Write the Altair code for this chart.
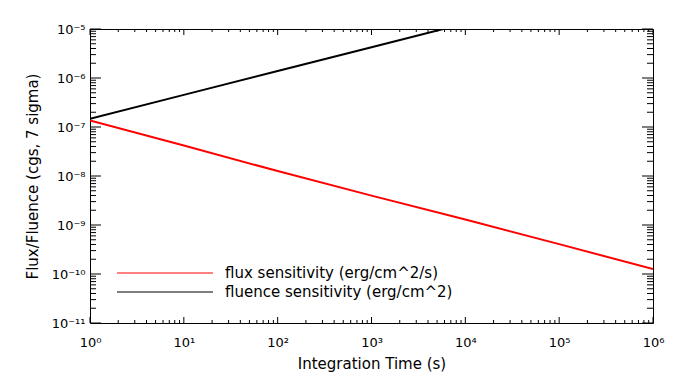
import altair as alt
import pandas as pd

# ---- data ----
time_s = [1, 10, 100, 1000, 10000, 100000, 1000000]
flux = [1.36e-7, 4.2e-8, 1.26e-8, 3.98e-9, 1.29e-9, 4.07e-10, 1.26e-10]
fluence_time = [1, 10, 100, 1000, 10000]
fluence = [1.47e-7, 4.53e-7, 1.39e-6, 4.25e-6, 1.3e-5]
series_names = ["flux sensitivity (erg/cm^2/s)", "fluence sensitivity (erg/cm^2)"]
series_colors = ["#ff0000", "#000000"]

x_major = [1e0, 1e1, 1e2, 1e3, 1e4, 1e5, 1e6]
y_major = [1e-11, 1e-10, 1e-9, 1e-8, 1e-7, 1e-6, 1e-5]
x_minor = [m * 10.0 ** k for k in range(0, 6) for m in range(2, 10)]
y_minor = [m * 10.0 ** k for k in range(-11, -5) for m in range(2, 10)]

W, H = 563, 294
FONT = "DejaVu Sans"

df = pd.concat([
    pd.DataFrame({"t": time_s, "v": flux, "s": series_names[0]}),
    pd.DataFrame({"t": fluence_time, "v": fluence, "s": series_names[1]}),
])

SUP = str.maketrans("0123456789-", "⁰¹²³⁴⁵⁶⁷⁸⁹⁻")


def label_expr(exps):
    e = "round(log(datum.value)/LN10)"
    return "".join(f"{e}=={k} ? '10{str(k).translate(SUP)}' : " for k in exps) + "''"


xscale = alt.Scale(type="log", domain=[1, 1e6], nice=False)
yscale = alt.Scale(type="log", domain=[1e-11, 1e-5], nice=False)

xaxis = alt.Axis(
    values=x_major, labelExpr=label_expr(range(0, 7)), title="Integration Time (s)",
    tickSize=0, labelPadding=13, labelFlush=False, labelOverlap=False, grid=False, domain=False,
    labelFont=FONT, labelFontSize=13, labelColor="black",
    titleFont=FONT, titleFontSize=15, titleFontWeight="normal", titleColor="black",
    titleX=W / 2, titleY=40, titleBaseline="middle", titleAlign="center")
yaxis = alt.Axis(
    values=y_major, labelExpr=label_expr(range(-11, -4)), title="Flux/Fluence (cgs, 7 sigma)",
    tickSize=0, labelPadding=5, labelFlush=False, labelOverlap=False, labelBaseline="middle",
    grid=False, domain=False,
    labelFont=FONT, labelFontSize=13, labelColor="black",
    titleFont=FONT, titleFontSize=15, titleFontWeight="normal", titleColor="black",
    titleX=-58, titleY=H / 2, titleAngle=270, titleBaseline="middle", titleAlign="center")

lines = alt.Chart(df).mark_line(strokeWidth=2, clip=True).encode(
    x=alt.X("t:Q", scale=xscale, axis=xaxis),
    y=alt.Y("v:Q", scale=yscale, axis=yaxis),
    color=alt.Color("s:N", scale=alt.Scale(domain=series_names, range=series_colors), legend=None),
    detail="s:N",
)

layers = [lines]

# inward tick marks on all four sides
for vals, length in ((x_major, 6), (x_minor, 3)):
    d = pd.DataFrame({"v": vals})
    xenc = alt.X("v:Q", scale=xscale, axis=xaxis)
    layers.append(alt.Chart(d).mark_rule(color="black", strokeWidth=1).encode(
        x=xenc, y=alt.value(H), y2=alt.value(H - length)))
    layers.append(alt.Chart(d).mark_rule(color="black", strokeWidth=1).encode(
        x=xenc, y=alt.value(0), y2=alt.value(length)))
for vals, length in ((y_major, 11), (y_minor, 6)):
    d = pd.DataFrame({"v": vals})
    yenc = alt.Y("v:Q", scale=yscale, axis=yaxis)
    layers.append(alt.Chart(d).mark_rule(color="black", strokeWidth=1).encode(
        y=yenc, x=alt.value(0), x2=alt.value(length)))
    layers.append(alt.Chart(d).mark_rule(color="black", strokeWidth=1).encode(
        y=yenc, x=alt.value(W), x2=alt.value(W - length)))

# legend drawn inside the plot
for i, (name, col) in enumerate(zip(series_names, series_colors)):
    d = pd.DataFrame({"name": [name]})
    yy = 244 + 19 * i
    layers.append(alt.Chart(d).mark_rule(color=col, strokeWidth=1).encode(
        x=alt.value(27), x2=alt.value(123), y=alt.value(yy)))
    layers.append(alt.Chart(d).mark_text(
        align="left", baseline="middle", font=FONT, fontSize=15, color="black").encode(
        x=alt.value(135), y=alt.value(yy), text="name:N"))

chart = alt.layer(*layers).properties(
    width=W, height=H,
    background="white",
    autosize=alt.AutoSizeParams(type="none"),
    padding={"left": 82, "top": 21, "right": 19, "bottom": 53},
).configure_view(stroke="black", strokeWidth=1)

chart.save("out.html", embed_options={"renderer": "svg", "actions": False})
